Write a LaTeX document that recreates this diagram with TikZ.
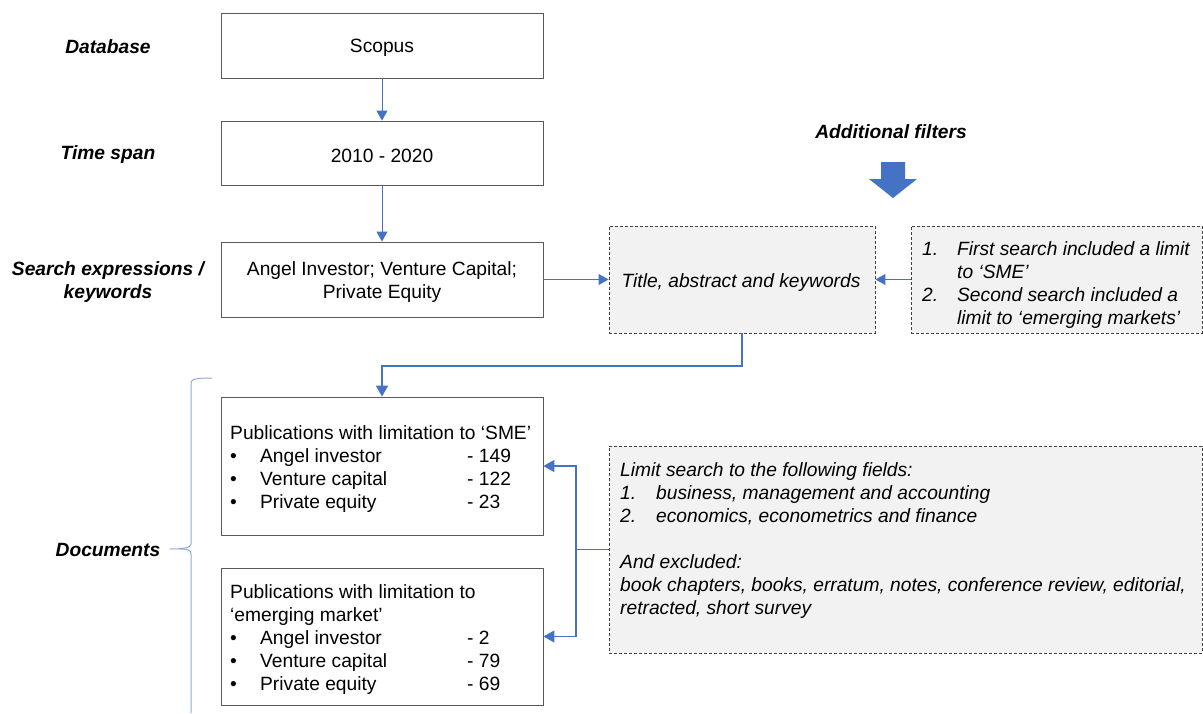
\documentclass[tikz,border=0pt]{standalone}
\usepackage{fontspec}
\setmainfont{Liberation Sans}
\usetikzlibrary{arrows.meta}
\definecolor{conncol}{HTML}{4472C4}
\definecolor{bracec}{HTML}{8FAADC}
\definecolor{boxfill}{HTML}{F2F2F2}
\newcommand\basefont{\fontsize{19.2}{23}\selectfont}
\tikzset{
 plainbox/.style={draw=black!65, line width=0.9pt, fill=white, inner sep=0pt},
 dashbox/.style={draw=black!75, dash pattern=on 3pt off 2pt, line width=0.9pt, fill=boxfill, inner sep=0pt},
 lbl/.style={font=\basefont\bfseries\itshape, align=center},
 txt/.style={font=\basefont, align=center, inner sep=0pt},
 itxt/.style={font=\basefont\itshape, align=center, inner sep=0pt},
 tbl/.style={anchor=north west, inner sep=0pt},
 connline/.style={draw=conncol, line width=1pt},
 conn/.style={connline, -{Triangle[width=11pt,length=10pt]}},
 conn2/.style={draw=conncol, line width=1.6pt, -{Triangle[width=12pt,length=11pt]}},
}
\begin{document}
\begin{tikzpicture}[x=1pt,y=-1pt]
\useasboundingbox (0,0) rectangle (1203,713);
% left labels
\node[lbl] (l1) at (108,47) {Database};
\node[lbl] (l2) at (108,155) {Time span};
\node[lbl] (l3) at (108,282) {Search expressions /\\keywords};
\node[lbl] (l4) at (108,550) {Documents};
% main boxes
\node[plainbox, minimum width=322pt, minimum height=65pt] (scopus) at (382,45.5) {};
\node[txt] (tscopus) at (382,47.5) {Scopus};
\node[plainbox, minimum width=322pt, minimum height=64pt] (span) at (382,153) {};
\node[txt] (tspan) at (382,155.5) {2010 - 2020};
\node[plainbox, minimum width=322pt, minimum height=75pt] (search) at (382,279.5) {};
\node[txt] (tsearch) at (382,282.5) {Angel Investor; Venture Capital;\\Private Equity};
% dashed boxes
\node[dashbox, minimum width=266pt, minimum height=107pt] (title) at (742,279.5) {};
\node[itxt] (ttitle) at (741,283) {Title, abstract and keywords};
\node[dashbox, minimum width=291pt, minimum height=107pt] (filter) at (1056.5,279.5) {};
\node[tbl, font=\basefont\itshape] (tfilter) at (922,239) {\begin{tabular}{@{}p{35pt}@{}l@{}}
1. & First search included a limit\\
 & to ‘SME’\\
2. & Second search included a\\
 & limit to ‘emerging markets’
\end{tabular}};
\node[lbl] (addf) at (891,132) {Additional filters};
\fill[conncol] (881,162) -- (905,162) -- (905,179) -- (917,179) -- (893,198) -- (869,179) -- (881,179) -- cycle;
% document boxes
\node[plainbox, minimum width=322pt, minimum height=138pt] (sme) at (382,466) {};
\node[tbl, font=\basefont] (tsme) at (230,423) {\begin{tabular}{@{}p{30pt}@{}p{207pt}@{}l@{}}
\multicolumn{3}{@{}l@{}}{Publications with limitation to ‘SME’}\\
• & Angel investor & - 149\\
• & Venture capital & - 122\\
• & Private equity & - 23
\end{tabular}};
\node[plainbox, minimum width=322pt, minimum height=137pt] (em) at (382,636.5) {};
\node[tbl, font=\basefont] (tem) at (230,582) {\begin{tabular}{@{}p{30pt}@{}p{207pt}@{}l@{}}
\multicolumn{3}{@{}l@{}}{Publications with limitation to}\\
\multicolumn{3}{@{}l@{}}{‘emerging market’}\\
• & Angel investor & - 2\\
• & Venture capital & - 79\\
• & Private equity & - 69
\end{tabular}};
\node[dashbox, minimum width=593pt, minimum height=207pt] (fields) at (905.5,549.5) {};
\node[tbl, font=\basefont\itshape] (tfields) at (620,460) {\begin{tabular}{@{}p{36pt}@{}l@{}}
\multicolumn{2}{@{}l@{}}{Limit search to the following fields:}\\
1. & business, management and accounting\\
2. & economics, econometrics and finance\\
 & \\
\multicolumn{2}{@{}l@{}}{And excluded:}\\
\multicolumn{2}{@{}l@{}}{book chapters, books, erratum, notes, conference review, editorial,}\\
\multicolumn{2}{@{}l@{}}{retracted, short survey}
\end{tabular}};
% connectors
\draw[conn] (scopus.south) -- (span.north);
\draw[conn] (span.south) -- (search.north);
\draw[conn] (search.east) -- (title.west);
\draw[conn] (filter.west) -- (title.east);
\coordinate (bend) at (742,366);
\draw[conn2] (title.south) -- (bend) -| (sme.north);
\coordinate (j) at (576,549.5);
\draw[draw=conncol, line width=1.2pt] (fields.west) -- (j);
\draw[conn2] (j) |- (sme.east);
\draw[conn2] (j) |- (em.east);
% brace
\draw[bracec, line width=1pt] (212,378) .. controls (196,378) and (191,379) .. (191,383) -- (191,544) .. controls (191,548) and (182,549) .. (170,549);
\draw[bracec, line width=1pt] (180,549) .. controls (188,549) and (191,550) .. (191,554) -- (191,713);
\end{tikzpicture}
\end{document}
